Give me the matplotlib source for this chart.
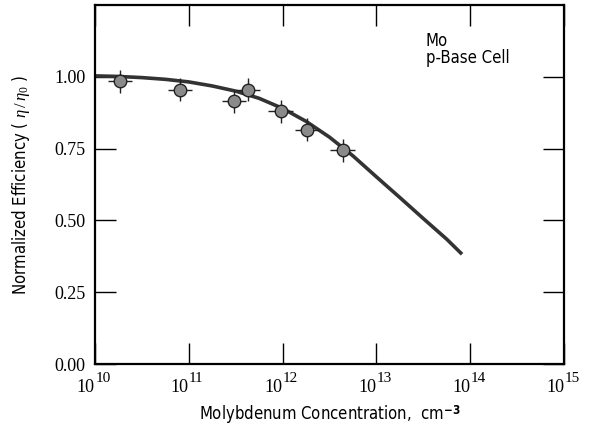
import numpy as np
import matplotlib
matplotlib.use("Agg")
import matplotlib.pyplot as plt
from matplotlib.ticker import FixedLocator, FuncFormatter, NullFormatter

# measured points (log10 of concentration) and normalized efficiency
log_conc = [10.27, 10.91, 11.48, 11.63, 11.98, 12.26, 12.64]
eff = [0.985, 0.955, 0.915, 0.955, 0.88, 0.815, 0.745]
x_err_dec = 0.13
y_err = 0.04

# calculated curve
curve_log = [10.0, 10.25, 10.5, 10.75, 11.0, 11.25, 11.5, 11.75, 12.0,
             12.25, 12.5, 12.75, 13.0, 13.25, 13.5, 13.75, 13.9]
curve_eff = [1.003, 1.001, 0.997, 0.991, 0.982, 0.968, 0.950, 0.925, 0.89,
             0.845, 0.79, 0.725, 0.652, 0.58, 0.507, 0.435, 0.387]

x_exponents = [10, 11, 12, 13, 14, 15]
y_ticks = [0.0, 0.25, 0.5, 0.75, 1.0]

plt.rcParams["font.family"] = ["DejaVu Sans"]
plt.rcParams["font.stretch"] = "condensed"
plt.rcParams["mathtext.fontset"] = "custom"
plt.rcParams["mathtext.rm"] = "Liberation Serif"
plt.rcParams["mathtext.it"] = "Liberation Serif:italic"

fig = plt.figure(figsize=(5.93, 4.42), dpi=100)
ax = fig.add_axes([0.160, 0.176, 0.791, 0.813])

x = np.power(10.0, log_conc)
xerr = [x - np.power(10.0, np.array(log_conc) - x_err_dec),
        np.power(10.0, np.array(log_conc) + x_err_dec) - x]

ax.plot(np.power(10.0, curve_log), curve_eff, color="#333333", lw=2.6,
        solid_joinstyle="round", zorder=2)
ax.errorbar(x, eff, xerr=xerr, yerr=y_err, fmt="o", ms=9, mfc="#8a8a8a",
            mec="#222222", mew=1.0, ecolor="#222222", elinewidth=1.0,
            capsize=0, zorder=3)

ax.set_xscale("log")
ax.set_xlim(1e10, 1e15)
ax.set_ylim(0, 1.25)
x_ticks = [10.0 ** e for e in x_exponents]
ax.xaxis.set_major_locator(FixedLocator(x_ticks))
ax.xaxis.set_minor_locator(FixedLocator([]))
ax.xaxis.set_major_formatter(NullFormatter())
ax.yaxis.set_major_locator(FixedLocator(y_ticks))
ax.yaxis.set_major_formatter(FuncFormatter(lambda v, p: "%.2f" % v))

ax.tick_params(direction="in", length=15, width=1.0, top=True, right=True,
               labelsize=13, pad=7)
for lab in ax.get_yticklabels():
    lab.set_family("Liberation Serif")
for s in ax.spines.values():
    s.set_linewidth(1.6)

# power-of-ten labels with a full-size exponent, as in the original
for e, v in zip(x_exponents, x_ticks):
    ax.annotate("10", xy=(v, 0), xycoords=("data", "axes fraction"),
                xytext=(0, -16.5), textcoords="offset points", ha="right",
                va="center", fontsize=13, family="Liberation Serif",
                annotation_clip=False)
    ax.annotate(str(e), xy=(v, 0), xycoords=("data", "axes fraction"),
                xytext=(0.3, -10), textcoords="offset points", ha="left",
                va="center", fontsize=11, family="Liberation Serif",
                annotation_clip=False)

ax.set_xlabel(r"Molybdenum Concentration,  cm$^{\mathbf{-3}}$", fontsize=12, labelpad=21)
ax.set_ylabel(r"Normalized Efficiency ( $\mathit{\eta}\,/\,\mathit{\eta}_{0}$ )",
              fontsize=12, labelpad=16)

ax.text(0.705, 0.90, "Mo", transform=ax.transAxes, fontsize=12, va="center")
ax.text(0.705, 0.852, "p-Base Cell", transform=ax.transAxes, fontsize=12, va="center")

fig.savefig("out.png", dpi=100)
